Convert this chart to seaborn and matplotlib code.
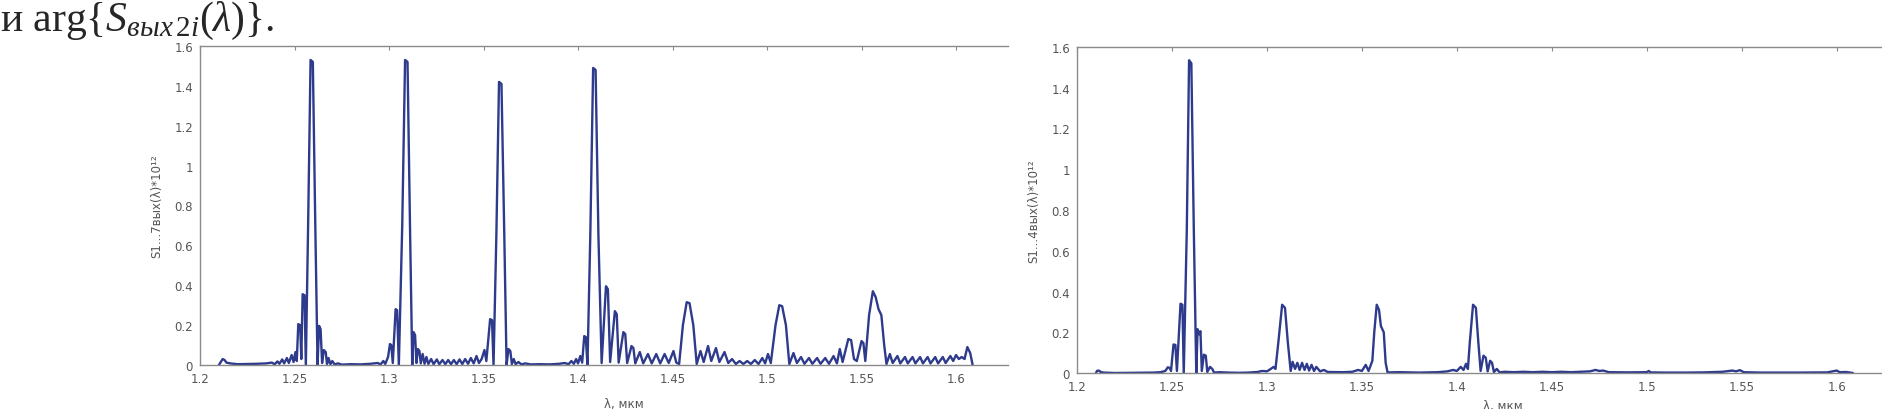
import numpy as np
import pandas as pd
import seaborn as sns
import matplotlib.pyplot as plt

# ---- left panel: S1...7 ----
lam_17 = [1.2100, 1.2110, 1.2120, 1.2130, 1.2140, 1.2160, 1.2200, 1.2250, 1.2300, 1.2350,
          1.2380, 1.2395, 1.2410, 1.2420, 1.2435, 1.2445, 1.2460, 1.2470, 1.2485, 1.2495,
          1.2505, 1.2512, 1.2520, 1.2530, 1.2536, 1.2543, 1.2553, 1.2560, 1.2572, 1.2585,
          1.2597, 1.2610, 1.2622, 1.2630, 1.2638, 1.2646, 1.2655, 1.2665, 1.2672, 1.2680,
          1.2690, 1.2700, 1.2712, 1.2730, 1.2750, 1.2800, 1.2850, 1.2900, 1.2940, 1.2955,
          1.2970, 1.2980, 1.2995, 1.3005, 1.3012, 1.3020, 1.3035, 1.3043, 1.3052, 1.3070,
          1.3085, 1.3098, 1.3111, 1.3123, 1.3130, 1.3138, 1.3145, 1.3153, 1.3161, 1.3168,
          1.3178, 1.3188, 1.3198, 1.3208, 1.3223, 1.3236, 1.3253, 1.3266, 1.3283, 1.3298,
          1.3313, 1.3328, 1.3343, 1.3358, 1.3373, 1.3388, 1.3403, 1.3418, 1.3433, 1.3448,
          1.3463, 1.3476, 1.3490, 1.3505, 1.3515, 1.3535, 1.3545, 1.3553, 1.3568, 1.3582,
          1.3595, 1.3610, 1.3622, 1.3632, 1.3642, 1.3650, 1.3660, 1.3670, 1.3685, 1.3700,
          1.3720, 1.3750, 1.3800, 1.3850, 1.3900, 1.3930, 1.3950, 1.3965, 1.3978, 1.3990,
          1.4000, 1.4012, 1.4022, 1.4033, 1.4041, 1.4050, 1.4065, 1.4080, 1.4093, 1.4108,
          1.4125, 1.4148, 1.4158, 1.4170, 1.4195, 1.4205, 1.4215, 1.4240, 1.4250, 1.4260,
          1.4283, 1.4293, 1.4303, 1.4327, 1.4345, 1.4370, 1.4390, 1.4414, 1.4435, 1.4458,
          1.4480, 1.4505, 1.4520, 1.4535, 1.4555, 1.4575, 1.4590, 1.4610, 1.4628, 1.4648,
          1.4665, 1.4688, 1.4705, 1.4730, 1.4748, 1.4775, 1.4795, 1.4815, 1.4835, 1.4855,
          1.4875, 1.4895, 1.4915, 1.4935, 1.4955, 1.4975, 1.4990, 1.5005, 1.5020, 1.5045,
          1.5065, 1.5080, 1.5100, 1.5118, 1.5140, 1.5158, 1.5180, 1.5198, 1.5222, 1.5240,
          1.5265, 1.5283, 1.5308, 1.5328, 1.5352, 1.5370, 1.5385, 1.5400, 1.5430, 1.5445,
          1.5460, 1.5475, 1.5500, 1.5510, 1.5520, 1.5540, 1.5560, 1.5575, 1.5590, 1.5605,
          1.5620, 1.5632, 1.5650, 1.5665, 1.5690, 1.5705, 1.5730, 1.5745, 1.5770, 1.5785,
          1.5810, 1.5825, 1.5850, 1.5865, 1.5890, 1.5905, 1.5930, 1.5945, 1.5970, 1.5985,
          1.6000, 1.6015, 1.6030, 1.6045, 1.6060, 1.6075, 1.6088]
s_17 = [0.000, 0.015, 0.030, 0.025, 0.012, 0.008, 0.004, 0.005, 0.006, 0.008,
        0.012, 0.004, 0.018, 0.006, 0.028, 0.008, 0.035, 0.010, 0.050, 0.015,
        0.065, 0.020, 0.205, 0.200, 0.030, 0.355, 0.350, 0.000, 0.700, 1.530,
        1.520, 0.700, 0.000, 0.196, 0.180, 0.010, 0.075, 0.065, 0.005, 0.035,
        0.004, 0.020, 0.003, 0.008, 0.002, 0.004, 0.003, 0.006, 0.010, 0.003,
        0.020, 0.005, 0.040, 0.105, 0.100, 0.010, 0.280, 0.275, 0.000, 0.700,
        1.530, 1.520, 0.700, 0.000, 0.165, 0.150, 0.010, 0.080, 0.070, 0.008,
        0.055, 0.006, 0.040, 0.005, 0.030, 0.004, 0.028, 0.004, 0.025, 0.004,
        0.025, 0.004, 0.025, 0.004, 0.028, 0.005, 0.030, 0.006, 0.035, 0.008,
        0.045, 0.010, 0.030, 0.075, 0.020, 0.230, 0.225, 0.000, 0.650, 1.420,
        1.410, 0.650, 0.000, 0.080, 0.070, 0.005, 0.030, 0.004, 0.015, 0.003,
        0.008, 0.003, 0.004, 0.003, 0.006, 0.010, 0.004, 0.020, 0.006, 0.030,
        0.008, 0.045, 0.012, 0.145, 0.140, 0.000, 0.650, 1.490, 1.480, 0.650,
        0.010, 0.395, 0.380, 0.015, 0.270, 0.255, 0.012, 0.165, 0.155, 0.010,
        0.095, 0.085, 0.008, 0.065, 0.008, 0.055, 0.008, 0.055, 0.008, 0.055,
        0.010, 0.070, 0.012, 0.005, 0.200, 0.315, 0.310, 0.200, 0.005, 0.070,
        0.015, 0.095, 0.020, 0.085, 0.015, 0.065, 0.010, 0.030, 0.005, 0.020,
        0.005, 0.020, 0.005, 0.025, 0.005, 0.035, 0.008, 0.055, 0.010, 0.200,
        0.300, 0.295, 0.200, 0.005, 0.060, 0.010, 0.040, 0.006, 0.035, 0.006,
        0.035, 0.006, 0.035, 0.006, 0.045, 0.008, 0.080, 0.015, 0.130, 0.125,
        0.030, 0.020, 0.120, 0.110, 0.020, 0.250, 0.370, 0.340, 0.280, 0.250,
        0.100, 0.005, 0.055, 0.010, 0.045, 0.008, 0.040, 0.008, 0.040, 0.008,
        0.040, 0.008, 0.040, 0.008, 0.040, 0.008, 0.040, 0.010, 0.045, 0.020,
        0.050, 0.030, 0.040, 0.030, 0.090, 0.060, 0.000]

# ---- right panel: S1...4 ----
lam_14 = [1.2100, 1.2105, 1.2115, 1.2125, 1.2140, 1.2200, 1.2300, 1.2400, 1.2440, 1.2465,
          1.2478, 1.2488, 1.2495, 1.2508, 1.2518, 1.2526, 1.2545, 1.2555, 1.2562, 1.2578,
          1.2590, 1.2602, 1.2615, 1.2628, 1.2635, 1.2643, 1.2650, 1.2657, 1.2668, 1.2678,
          1.2686, 1.2700, 1.2712, 1.2722, 1.2750, 1.2800, 1.2850, 1.2900, 1.2950, 1.2975,
          1.3000, 1.3020, 1.3035, 1.3045, 1.3060, 1.3080, 1.3095, 1.3110, 1.3125, 1.3135,
          1.3148, 1.3160, 1.3172, 1.3185, 1.3198, 1.3210, 1.3222, 1.3235, 1.3248, 1.3260,
          1.3280, 1.3300, 1.3320, 1.3400, 1.3450, 1.3480, 1.3500, 1.3520, 1.3535, 1.3555,
          1.3565, 1.3578, 1.3590, 1.3600, 1.3615, 1.3625, 1.3635, 1.3700, 1.3800, 1.3900,
          1.3950, 1.3980, 1.4000, 1.4020, 1.4035, 1.4048, 1.4058, 1.4068, 1.4085, 1.4100,
          1.4113, 1.4125, 1.4140, 1.4152, 1.4162, 1.4175, 1.4185, 1.4195, 1.4210, 1.4225,
          1.4250, 1.4300, 1.4350, 1.4400, 1.4450, 1.4500, 1.4550, 1.4600, 1.4650, 1.4700,
          1.4730, 1.4750, 1.4770, 1.4800, 1.4900, 1.5000, 1.5010, 1.5020, 1.5100, 1.5200,
          1.5300, 1.5400, 1.5450, 1.5470, 1.5490, 1.5510, 1.5600, 1.5800, 1.5950, 1.6000,
          1.6015, 1.6050, 1.6085]
s_14 = [0.000, 0.010, 0.012, 0.005, 0.002, 0.000, 0.001, 0.002, 0.004, 0.010,
        0.028, 0.025, 0.010, 0.140, 0.138, 0.010, 0.340, 0.335, 0.000, 0.700,
        1.535, 1.520, 0.700, 0.000, 0.215, 0.190, 0.205, 0.010, 0.090, 0.085,
        0.005, 0.030, 0.020, 0.002, 0.004, 0.002, 0.001, 0.002, 0.005, 0.010,
        0.008, 0.020, 0.030, 0.020, 0.150, 0.335, 0.320, 0.150, 0.010, 0.055,
        0.020, 0.050, 0.015, 0.050, 0.015, 0.045, 0.012, 0.040, 0.010, 0.030,
        0.008, 0.015, 0.005, 0.004, 0.006, 0.015, 0.010, 0.040, 0.010, 0.060,
        0.200, 0.335, 0.310, 0.230, 0.200, 0.050, 0.003, 0.004, 0.002, 0.004,
        0.008, 0.015, 0.010, 0.030, 0.015, 0.045, 0.020, 0.150, 0.335, 0.320,
        0.150, 0.010, 0.085, 0.075, 0.008, 0.060, 0.050, 0.005, 0.020, 0.003,
        0.006, 0.004, 0.006, 0.004, 0.006, 0.004, 0.006, 0.004, 0.006, 0.008,
        0.015, 0.010, 0.012, 0.004, 0.003, 0.004, 0.010, 0.003, 0.002, 0.002,
        0.003, 0.006, 0.012, 0.008, 0.014, 0.004, 0.002, 0.002, 0.003, 0.012,
        0.004, 0.005, 0.000]

x_ticks = [1.2, 1.25, 1.3, 1.35, 1.4, 1.45, 1.5, 1.55, 1.6]
x_labels = ["1.2", "1.25", "1.3", "1.35", "1.4", "1.45", "1.5", "1.55", "1.6"]
y_ticks = [0, 0.2, 0.4, 0.6, 0.8, 1.0, 1.2, 1.4, 1.6]
y_labels = ["0", "0.2", "0.4", "0.6", "0.8", "1", "1.2", "1.4", "1.6"]

line_color = "#2e3a8c"
grey = "#8a8a8a"

sns.set_style("white")
plt.rcParams['font.family'] = ['DejaVu Sans']
plt.rcParams['mathtext.fontset'] = 'custom'
plt.rcParams['mathtext.rm'] = 'Liberation Serif'
plt.rcParams['mathtext.it'] = 'Liberation Serif:italic'

fig = plt.figure(figsize=(18.82, 4.10), dpi=100)
ax1 = fig.add_axes([200/1882, 1-366/410, 808/1882, 319/410])
ax2 = fig.add_axes([1077/1882, 1-374/410, 812/1882, 326/410])

panels = [(ax1, lam_17, s_17, "S1...7вых(λ)*10¹²", 0.524, -0.10),
          (ax2, lam_14, s_14, "S1...4вых(λ)*10¹²", 0.525, -0.079)]

for ax, lam, vals, ylab, lx, ly in panels:
    df = pd.DataFrame({"lam": lam, "s": vals})
    sns.lineplot(data=df, x="lam", y="s", ax=ax, color=line_color,
                 linewidth=1.7, estimator=None, sort=False)
    ax.set_xlim(1.2, 1.6275)
    ax.set_ylim(0, 1.6)
    ax.set_xticks(x_ticks)
    ax.set_xticklabels(x_labels)
    ax.set_yticks(y_ticks)
    ax.set_yticklabels(y_labels)
    ax.tick_params(direction='in', length=3, width=0.8, colors=grey,
                   labelsize=8.5, labelcolor="#555555", top=True)
    ax.tick_params(axis='x', pad=5)
    ax.tick_params(axis='y', pad=5)
    for side in ["left", "bottom", "top"]:
        ax.spines[side].set_color(grey)
        ax.spines[side].set_linewidth(1.0)
    ax.spines["right"].set_visible(False)
    ax.set_ylabel(ylab, fontsize=8.5, color="#555555", labelpad=8)
    ax.set_xlabel("λ, мкм", fontsize=8.5, color="#555555")
    ax.xaxis.set_label_coords(lx, ly)

fig.text(0.0, 1-31/410, r"и arg$\{S_{вых\,2i}(\lambda)\}$.",
         family='Liberation Serif', fontsize=30, va='baseline', ha='left')

fig.savefig("out.png", dpi=100, facecolor="white")
